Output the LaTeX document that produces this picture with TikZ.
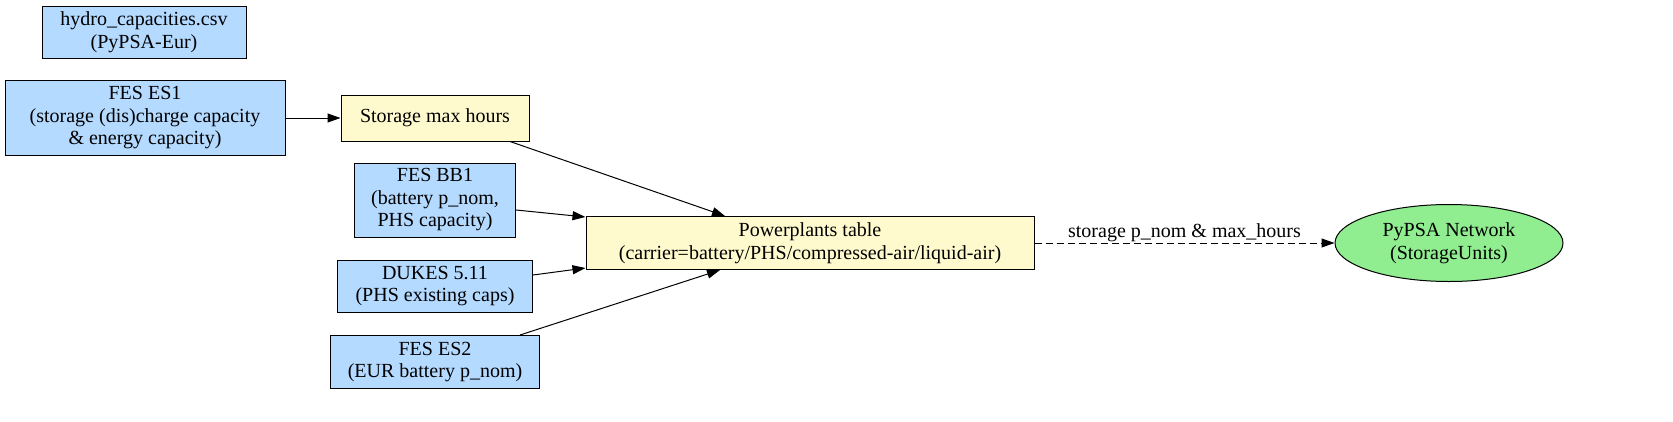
\documentclass[tikz,border=0pt]{standalone}
\usepackage{fontspec}
\setmainfont{Liberation Serif}
\usetikzlibrary{arrows.meta,shapes.geometric,calc}
\begin{document}
\begin{tikzpicture}[x=1pt,y=-1pt,
  every node/.style={font=\fontsize{20}{22.5}\selectfont,align=center,draw=black,line width=1pt,inner sep=0pt},
  src/.style={fill={rgb,255:red,180;green,218;blue,255}},
  proc/.style={fill={rgb,255:red,255;green,250;blue,205}},
  arr/.style={-{Triangle[length=13pt,width=9pt]},line width=1pt}]
\useasboundingbox (0,0) rectangle (1673,421);
\node[src,minimum width=204,minimum height=52] (hy) at (144,32) {hydro\_capacities.csv\\(PyPSA-Eur)};
\node[src,minimum width=280,minimum height=75] (es1) at (145,118) {FES ES1\\(storage (dis)charge capacity\\\& energy capacity)};
\node[proc,minimum width=188,minimum height=46] (smh) at (435,118) {Storage max hours};
\node[src,minimum width=161,minimum height=74] (bb1) at (435,200) {FES BB1\\(battery p\_nom,\\PHS capacity)};
\node[src,minimum width=195,minimum height=52] (dk) at (435,286) {DUKES 5.11\\(PHS existing caps)};
\node[src,minimum width=209,minimum height=53] (es2) at (435,362) {FES ES2\\(EUR battery p\_nom)};
\node[proc,minimum width=448,minimum height=53] (pp) at (810,243) {Powerplants table\\(carrier=battery/PHS/compressed-air/liquid-air)};
\node[ellipse,fill={rgb,255:red,144;green,238;blue,144},minimum width=228,minimum height=77] (net) at (1449,243) {PyPSA Network\\(StorageUnits)};
\draw[arr] (es1) -- (smh);
\draw[arr] ($(smh.south)+(75,0)$) -- ($(pp.north)+(-85,0)$);
\draw[arr] ($(bb1.east)+(0,10)$) -- ($(pp.west)+(0,-26)$);
\draw[arr] ($(dk.east)+(0,-11)$) -- ($(pp.west)+(0,25)$);
\draw[arr] ($(es2.north)+(85,0)$) -- ($(pp.south)+(-90,0)$);
\draw[arr,dash pattern=on 7pt off 4pt] (pp) -- node[draw=none,above=1pt]{storage p\_nom \& max\_hours} (net);
\end{tikzpicture}
\end{document}
